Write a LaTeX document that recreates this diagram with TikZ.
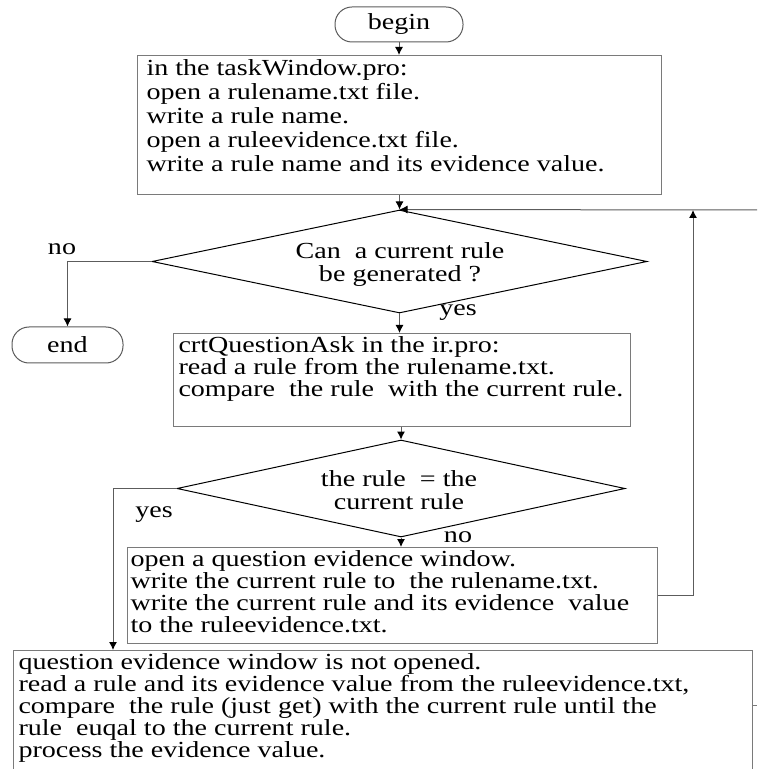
\documentclass[tikz,border=0pt]{standalone}
\usepackage{fontspec}
\setmainfont{Liberation Serif}
\newfontfamily\widefont[FakeStretch=1.22]{Liberation Serif}
\usepackage{tikz}
\usetikzlibrary{shapes.geometric, arrows.meta}
\definecolor{gray3}{HTML}{5C5C5C}
\definecolor{gray4}{HTML}{7A7A7A}

\begin{document}
\begin{tikzpicture}[x=0.5pt, y=-0.5pt,
    every node/.style={font=\widefont\fontsize{11.5}{11.5}\selectfont},
    terminal/.style={draw=gray3, line width=0.5pt, rounded corners=8.5pt, inner sep=0pt},
    procbox/.style={draw=gray4, line width=0.5pt, anchor=north west, inner xsep=2.5pt, inner ysep=1.5pt},
    decision/.style={draw, line width=0.5pt, diamond, inner sep=0pt},
    flow/.style={draw=gray3, line width=0.5pt, -{Latex[length=4pt, width=4pt, color=black]}}]

    \useasboundingbox (0,0) rectangle (757,769);
    \clip (0,0) rectangle (757,769);

    % Start and the first box
    \node[terminal, minimum width=64pt, minimum height=17.5pt] (begin) at (399,24.5) {begin};
    \node[procbox, inner xsep=4.5pt, inner ysep=2pt, font=\widefont\fontsize{11.5}{12}\selectfont] (open) at (137,55)
        {\begin{minipage}[t][65.5pt][t]{253pt}
        in the taskWindow.pro:\\open a rulename.txt file.\\write a rule name.\\open a ruleevidence.txt file.\\write a rule name and its evidence value.
        \end{minipage}};

    % First question
    \node[decision, minimum width=247.5pt, minimum height=51.5pt] (gen) at (399.5,261.5) {};
    \node[align=center] (gentext) at (400,265) {Can\ \ a current rule\\be generated ?};
    \node (no1) at (62,249) {no};
    \node (yes1) at (458,313) {yes};
    \node[terminal, minimum width=55.5pt, minimum height=18pt] (end) at (67.5,345) {end};

    % Compare with the current rule
    \node[procbox, font=\widefont\fontsize{11.5}{11}\selectfont] (ask) at (173,333)
        {\begin{minipage}[t][43.5pt][t]{223.5pt}
        crtQuestionAsk in the ir.pro:\\read a rule from the rulename.txt.\\compare\ \ the rule\ \ with the current rule.
        \end{minipage}};

    % Second question
    \node[decision, minimum width=224pt, minimum height=48.5pt] (same) at (401,488.5) {};
    \node[align=center] (sametext) at (399,490) {the rule\ \ = the\\current rule};
    \node (yes2) at (154,515) {yes};
    \node (no2) at (458,537) {no};

    % Write the rule, or read it back
    \node[procbox, inner xsep=1.5pt, font=\widefont\fontsize{11.5}{11}\selectfont] (write) at (127,547)
        {\begin{minipage}[t][45pt][t]{262pt}
        open a question evidence window.\\write the current rule to\ \ the rulename.txt.\\write the current rule and its evidence\ \ value\\to the ruleevidence.txt.
        \end{minipage}};
    \node[procbox, font=\widefont\fontsize{11.5}{11}\selectfont] (read) at (13,650)
        {\begin{minipage}[t][80pt][t]{364.5pt}
        question evidence window is not opened.\\read a rule and its evidence value from the ruleevidence.txt,\\compare\ \ the rule (just get) with the current rule until the\\\ rule\ \ euqal to the current rule.\\process the evidence value.
        \end{minipage}};

    % Connectors
    \coordinate (yesdrop) at (113,650);
    \coordinate (loopup) at (693,210);
    \coordinate (loopin) at (757,210);
    \coordinate (readout) at (757,705);
    \draw[flow] (begin.south) -- (begin.south |- open.north);
    \draw[flow] (gen.north |- open.south) -- (gen.north);
    \draw[flow] (gen.west) -| (end.north);
    \draw[flow] (gen.south) -- (gen.south |- ask.north);
    \draw[flow] (same.north |- ask.south) -- (same.north);
    \draw[flow] (same.south) -- (same.south |- write.north);
    \draw[flow] (same.west) -| (yesdrop);
    \draw[flow] (write.east) -| (loopup);
    \draw[flow] (loopin) -- (gen.north);
    \draw[draw=gray4, line width=0.5pt] (read.east |- readout) -- (readout);

\end{tikzpicture}
\end{document}
